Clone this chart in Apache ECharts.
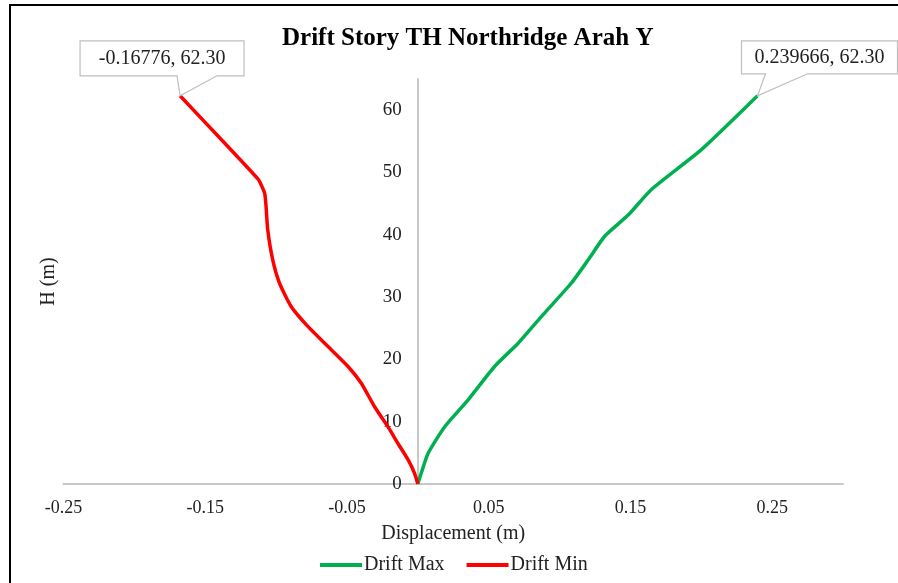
<!DOCTYPE html>
<html>
<head>
<meta charset="utf-8">
<script src="https://cdn.jsdelivr.net/npm/echarts@6/dist/echarts.min.js"></script>
<style>
  html, body { margin: 0; padding: 0; background: #fff; }
  #main { width: 898px; height: 583px; }
</style>
</head>
<body>
<div id="main"></div>
<script>
var myChart = echarts.init(document.getElementById('main'));

// Drift Max (green)
var maxH    = [0, 1.8, 4.9, 9.2, 13.5, 18.9, 22.6, 26.9, 32.3, 36.0, 39.8, 43.2, 47.3, 53.7, 62.3];
var maxDisp = [0, 0.0025, 0.0072, 0.019, 0.0355, 0.0543, 0.0708, 0.0873, 0.1085, 0.1203, 0.132, 0.1486, 0.165, 0.2003, 0.239666];

// Drift Min (red)
var minH    = [0, 1.7, 3.9, 6.5, 9.2, 12.4, 16.2, 18.9, 22.1, 25.3, 28.5, 32.3, 36.0, 40.8, 44.6, 46.6, 48.0, 49.0, 55.6, 62.3];
var minDisp = [0, -0.0023, -0.0069, -0.014, -0.0211, -0.0305, -0.04, -0.0494, -0.0635, -0.0776, -0.0894, -0.0977, -0.1024, -0.1059, -0.1071, -0.108, -0.1105, -0.113, -0.140, -0.16776];

var seriesNames = ['Drift Max', 'Drift Min'];
var seriesColors = ['#00B050', '#FF0000'];

function pairs(xs, ys) {
    var out = [];
    for (var i = 0; i < xs.length; i++) out.push([xs[i], ys[i]]);
    return out;
}

var serif = '"Liberation Serif", "Times New Roman", serif';
var gridLeft = 63.5;

option = {
    backgroundColor: '#fff',
    animation: false,
    title: {
        text: 'Drift Story TH Northridge Arah Y',
        left: 277,
        top: 21,
        textStyle: { fontFamily: serif, fontSize: 25, fontWeight: 'bold', color: '#000' }
    },
    legend: {
        data: seriesNames,
        left: 315,
        top: 550,
        icon: 'rect',
        itemWidth: 42,
        itemHeight: 4,
        itemGap: 22,
        textStyle: { fontFamily: serif, fontSize: 20, color: '#222', padding: [0, 0, 0, -3] }
    },
    grid: { left: gridLeft, right: 55, top: 79, bottom: 99, containLabel: false, outerBoundsMode: 'none' },
    xAxis: {
        type: 'value',
        min: -0.25,
        max: 0.30,
        interval: 0.1,
        name: 'Displacement (m)',
        nameLocation: 'middle',
        nameGap: 40,
        nameTextStyle: { fontFamily: serif, fontSize: 20, color: '#222' },
        axisLine: { show: true, lineStyle: { color: '#c8c8c8', width: 2 } },
        axisTick: { show: false },
        splitLine: { show: false },
        axisLabel: {
            showMaxLabel: false,
            margin: 15,
            fontFamily: serif, fontSize: 18, color: '#222',
            formatter: function (v) { return (Math.round(v * 100) / 100).toFixed(2); }
        }
    },
    yAxis: {
        type: 'value',
        min: 0,
        max: 65,
        interval: 10,
        name: 'H (m)',
        nameLocation: 'middle',
        nameGap: 359,
        nameTextStyle: { fontFamily: serif, fontSize: 20, color: '#222' },
        axisLine: { show: true, onZero: false, lineStyle: { color: '#c8c8c8', width: 2 } },
        axisTick: { show: false },
        splitLine: { show: false },
        axisLabel: { showMaxLabel: false, margin: 16, fontFamily: serif, fontSize: 19, color: '#222' }
    },
    series: [
        {
            name: seriesNames[0],
            type: 'line',
            data: pairs(maxDisp, maxH),
            smooth: 0.2,
            showSymbol: false,
            color: seriesColors[0],
            lineStyle: { width: 3.5, color: seriesColors[0] }
        },
        {
            name: seriesNames[1],
            type: 'line',
            data: pairs(minDisp, minH),
            smooth: 0.2,
            showSymbol: false,
            color: seriesColors[1],
            lineStyle: { width: 3.5, color: seriesColors[1] }
        }
    ]
};

myChart.setOption(option);

// move the y axis (line, labels, name) onto x = 0
var zeroX = myChart.convertToPixel({ xAxisIndex: 0 }, 0);
myChart.setOption({ yAxis: { offset: -(zeroX - gridLeft), nameGap: zeroX - 59 } });

// callouts on the top points, placed from the pixel of the data point
function callout(seriesIndex, xv, yv, box, wedge) {
    var p = myChart.convertToPixel({ seriesIndex: seriesIndex }, [xv, yv]);
    var l = p[0] + box[0], r = p[0] + box[1], t = p[1] + box[2], b = p[1] + box[3];
    var pts = [[l, t], [r, t], [r, b], [p[0] + wedge[1], b], [p[0], p[1]], [p[0] + wedge[0], b], [l, b]];
    return [
        {
            type: 'polygon',
            shape: { points: pts },
            style: { fill: '#fff', stroke: '#bfbfbf', lineWidth: 1.2 },
            z: 100
        },
        {
            type: 'text',
            x: (l + r) / 2,
            y: (t + b) / 2,
            style: {
                text: xv + ', ' + yv.toFixed(2),
                fontFamily: serif, fontSize: 20, fill: '#222',
                align: 'center', verticalAlign: 'middle'
            },
            z: 101
        }
    ];
}

var lastMin = minDisp.length - 1, lastMax = maxDisp.length - 1;
var graphics = [
    {
        type: 'rect',
        shape: { x: 10, y: 5, width: 900, height: 600 },
        style: { fill: 'none', stroke: '#000', lineWidth: 2 },
        silent: true
    }
].concat(
    callout(1, minDisp[lastMin], minH[lastMin], [-100, 64, -55, -20], [-3, 37]),
    callout(0, maxDisp[lastMax], maxH[lastMax], [-16, 140, -55, -22], [8, 50])
);

myChart.setOption({ graphic: graphics });
</script>
</body>
</html>
